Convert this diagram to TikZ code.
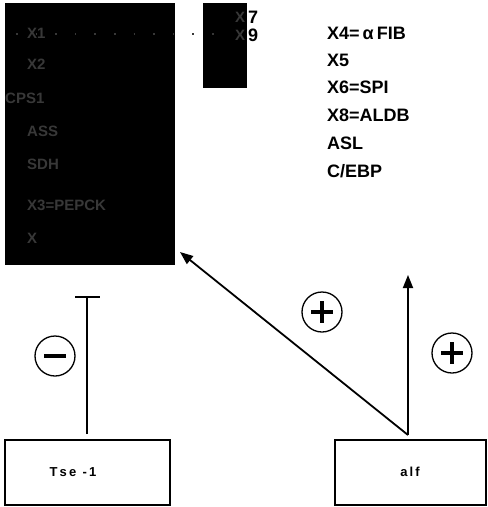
\documentclass[tikz,border=0pt]{standalone}
\usepackage{fontspec}
\setmainfont{Liberation Sans}
\usetikzlibrary{arrows.meta}
\begin{document}
\begin{tikzpicture}[x=1pt,y=-1pt,
  lbl/.style={font=\fontsize{18}{18}\selectfont\bfseries, anchor=west, inner sep=0pt},
  ghost/.style={font=\fontsize{15}{15}\selectfont\bfseries, text=black!78, anchor=west, inner sep=0pt},
  genebox/.style={draw, line width=1.1pt, minimum width=#1, minimum height=65pt, inner sep=0pt},
  sign/.style={circle, draw, line width=1.3pt, minimum size=40pt, inner sep=0pt},
  conn/.style={line width=1.8pt}]
\useasboundingbox (0,0) rectangle (488,507);
% dark blocks
\fill[black] (5,3) rectangle (175,265);
\fill[black] (203,3) rectangle (247,88);
% ghost texts in the dark block
\node[ghost] (g1) at (27,33) {X1};
\draw[black!78, line width=1.6pt, dash pattern=on 1.6pt off 18pt] (16,34) -- (230,34);
\node[ghost] (g2) at (27,64) {X2};
\node[ghost] (g3) at (5,98) {CPS1};
\node[ghost] (g4) at (27,131) {ASS};
\node[ghost] (g5) at (27,164) {SDH};
\node[ghost] (g6) at (27,205) {X3=PEPCK};
\node[ghost] (g7) at (27,238) {X};
\node[ghost] (g8) at (235,17) {X};
\node[ghost] (g9) at (235,35) {X};
\node[lbl] (n7) at (248,17) {7};
\node[lbl] (n9) at (248,35) {9};
% right column
\node[lbl] (t1) at (327,33) {X4=\,α\,FIB};
\node[lbl] (t2) at (327,60) {X5};
\node[lbl] (t3) at (327,87) {X6=SPI};
\node[lbl] (t4) at (327,115) {X8=ALDB};
\node[lbl] (t5) at (327,143) {ASL};
\node[lbl] (t6) at (327,171) {C/EBP};
% gene boxes
\node[genebox=165pt] (tse) at (87.5,472.5) {};
\node[font=\fontsize{13}{13}\selectfont\bfseries, inner sep=0pt] (tsel) at (73,472) {T\,s\,e\,\,\,-\,1};
\node[genebox=151pt] (alf) at (410.5,472.5) {};
\node[font=\fontsize{13}{13}\selectfont\bfseries, inner sep=0pt] (alfl) at (410,472) {a\,l\,f};
% connectors
\coordinate (tsetop) at (87,434);
\coordinate (inh) at (87,297);
\draw[conn] (tsetop) -- (inh);
\draw[conn] (75,297) -- (100,297);
\coordinate (alftop) at (408,435);
\coordinate (upend) at (408,275);
\coordinate (diagend) at (180,252);
\draw[conn, -{Triangle[length=13pt,width=10pt]}] (alftop) -- (upend);
\draw[conn, -{Triangle[length=13pt,width=10pt]}] (alftop) -- (diagend);
% signs
\node[sign] (m) at (55,356) {};
\draw[line width=4.5pt] (44,356) -- (66,356);
\node[sign] (p1) at (322,312) {};
\draw[line width=3.8pt] (311,312) -- (333,312) (322,301) -- (322,323);
\node[sign] (p2) at (452,353) {};
\draw[line width=3.8pt] (441,353) -- (463,353) (452,342) -- (452,364);
\end{tikzpicture}
\end{document}
